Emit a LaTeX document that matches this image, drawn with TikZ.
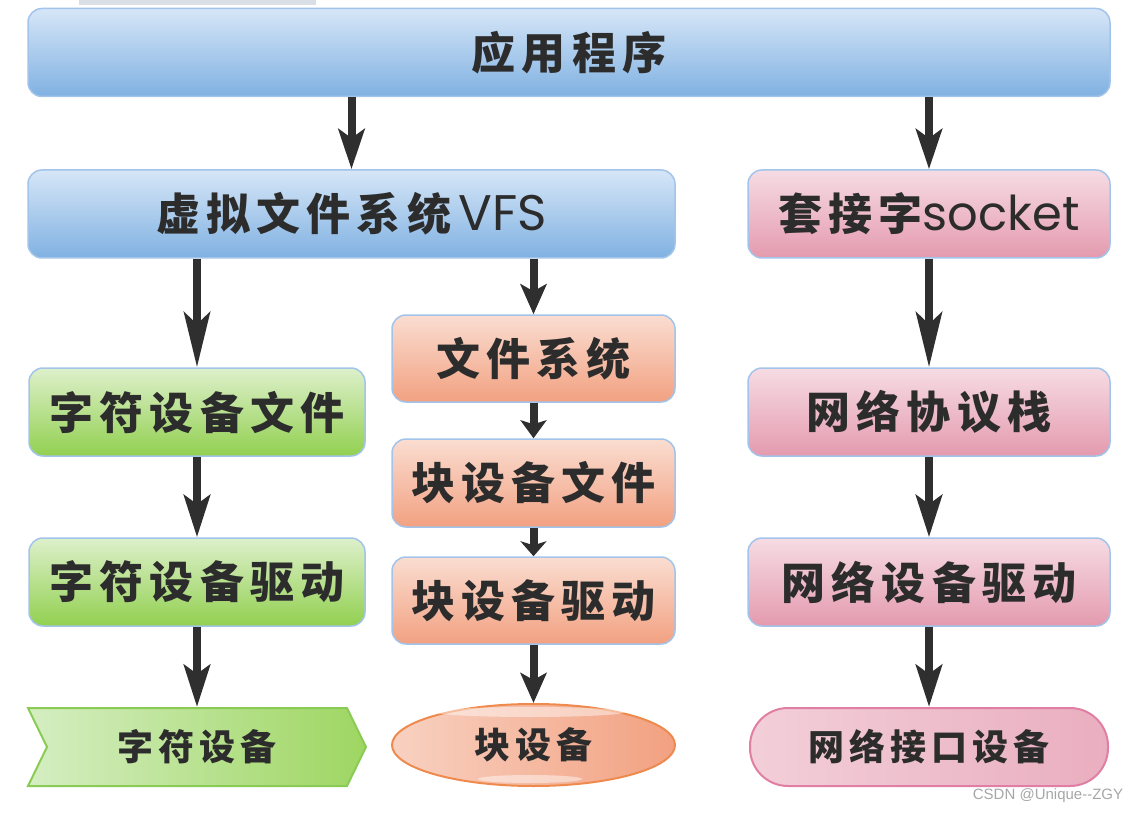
\documentclass[tikz,border=0pt]{standalone}
\usepackage{fontspec}
\usepackage{tikz}
\usetikzlibrary{shapes, shapes.geometric, shapes.symbols, arrows.meta, positioning}

\newfontfamily\hanzi[LetterSpace=14]{Noto Sans CJK SC}
\newfontfamily\latin{Poppins}
\newfontfamily\wmfont{Liberation Sans}

\definecolor{bluebase}{HTML}{80B1E2}
\definecolor{bluetop}{HTML}{D6E6F7}
\definecolor{pinkbase}{HTML}{E49AAF}
\definecolor{pinktop}{HTML}{F6DCE4}
\definecolor{greenbase}{HTML}{92D050}
\definecolor{greentop}{HTML}{DDF0CB}
\definecolor{salmonbase}{HTML}{F2A181}
\definecolor{salmontop}{HTML}{FADDD1}
\definecolor{boxline}{HTML}{A3C4EA}
\definecolor{chevleft}{HTML}{D5EEC2}
\definecolor{chevright}{HTML}{9ED662}
\definecolor{chevline}{HTML}{8ACB56}
\definecolor{ovalline}{HTML}{EF8A4E}
\definecolor{pillline}{HTML}{E07FA3}
\definecolor{txt}{HTML}{2C2C2C}
\definecolor{arrowc}{HTML}{2F2F2F}
\definecolor{barc}{HTML}{DADFE6}
\definecolor{wmc}{HTML}{A6A6A6}

\begin{document}
\begin{tikzpicture}[x=1pt, y=-1pt,
    flow/.style 2 args={draw=arrowc, line width=8pt, -{Stealth[width=26pt, length=#1, inset=#2]}}]
      \tikzstyle{box}=[rectangle, rounded corners=14pt, inner sep=0pt, draw=boxline, line width=1.5pt, text=txt, minimum height=88pt, font=\hanzi\bfseries\fontsize{44}{48}\selectfont]
      \tikzstyle{blue box}=[box, top color=bluetop, middle color=bluebase, bottom color=bluebase]
      \tikzstyle{pink box}=[box, top color=pinktop, middle color=pinkbase, bottom color=pinkbase]
      \tikzstyle{green box}=[box, top color=greentop, middle color=greenbase, bottom color=greenbase]
      \tikzstyle{salmon box}=[box, top color=salmontop, middle color=salmonbase, bottom color=salmonbase]
      \tikzstyle{device}=[inner sep=0pt, line width=2pt, text=txt, minimum height=78pt, font=\hanzi\bfseries\fontsize{36}{40}\selectfont]
      \tikzstyle{word}=[font=\latin\mdseries\fontsize{50}{54}\selectfont]
      \useasboundingbox (0,0) rectangle (1141,813);
      \fill[barc] (79,0) rectangle (316,5);

      % top layer
      \node [blue box, minimum width=1082pt] (app) at (569,52.5) {应用程序};
      \node [blue box, minimum width=647pt] (vfs) at (351.5,214) {虚拟文件系统\,{\latin\mdseries\fontsize{50}{54}\selectfont VFS}};
      \node [pink box, minimum width=362pt] (sock) at (929,214) {套接字{\latin\mdseries\fontsize{48}{52}\selectfont socket}};

      % character devices
      \node [green box, minimum width=336pt] (cfile) at (197,412) {字符设备文件};
      \node [green box, minimum width=336pt] (cdrv) at (197,582) {字符设备驱动};
      \node [device, signal, signal to=east, signal from=west, signal pointer angle=128,
             minimum width=338pt, draw=chevline, left color=chevleft, right color=chevright] (cdev) at (197,747) {字符设备};

      % block devices
      \node [salmon box, minimum width=283pt, minimum height=87pt] (fs) at (533.5,358.5) {文件系统};
      \node [salmon box, minimum width=283pt] (bfile) at (533.5,483) {块设备文件};
      \node [salmon box, minimum width=283pt, minimum height=87pt] (bdrv) at (533.5,600.5) {块设备驱动};
      \node [device, ellipse, minimum width=283pt, minimum height=82pt,
             draw=ovalline, left color=salmontop!80!salmonbase, right color=salmonbase] (bdev) at (533.5,745) {块设备};
      \fill [white, opacity=0.45] (530,712) ellipse (95pt and 5pt);
      \fill [white, opacity=0.45] (530,779) ellipse (52pt and 4pt);

      % network devices
      \node [pink box, minimum width=362pt] (nstack) at (929,412) {网络协议栈};
      \node [pink box, minimum width=362pt] (ndrv) at (929,582) {网络设备驱动};
      \node [device, rectangle, rounded corners=38pt, minimum width=358pt,
             draw=pillline, left color=pinktop!80!pinkbase, right color=pinkbase!80!white] (ndev) at (929,747) {网络接口设备};

      \node [text=wmc, font=\wmfont\fontsize{15}{16}\selectfont] (mark) at (1048,796) {CSDN @Unique-{}-ZGY};

      % arrows
      \draw [flow={40pt}{9pt}] (vfs.north |- app.south) -- (vfs.north);
      \draw [flow={40pt}{9pt}] (sock.north |- app.south) -- (sock.north);
      \draw [flow={55pt}{12pt}] (cfile.north |- vfs.south) -- (cfile.north);
      \draw [flow={30pt}{7pt}] (fs.north |- vfs.south) -- (fs.north);
      \draw [flow={18pt}{4pt}] (fs) -- (bfile);
      \draw [flow={15pt}{4pt}] (bfile) -- (bdrv);
      \draw [flow={30pt}{7pt}] (bdrv) -- (bdev);
      \draw [flow={42pt}{9pt}] (cfile) -- (cdrv);
      \draw [flow={42pt}{9pt}] (cdrv.south) -- (cdev.north);
      \draw [flow={55pt}{12pt}] (sock) -- (nstack);
      \draw [flow={42pt}{9pt}] (nstack) -- (ndrv);
      \draw [flow={42pt}{9pt}] (ndrv) -- (ndev);
\end{tikzpicture}
\end{document}
